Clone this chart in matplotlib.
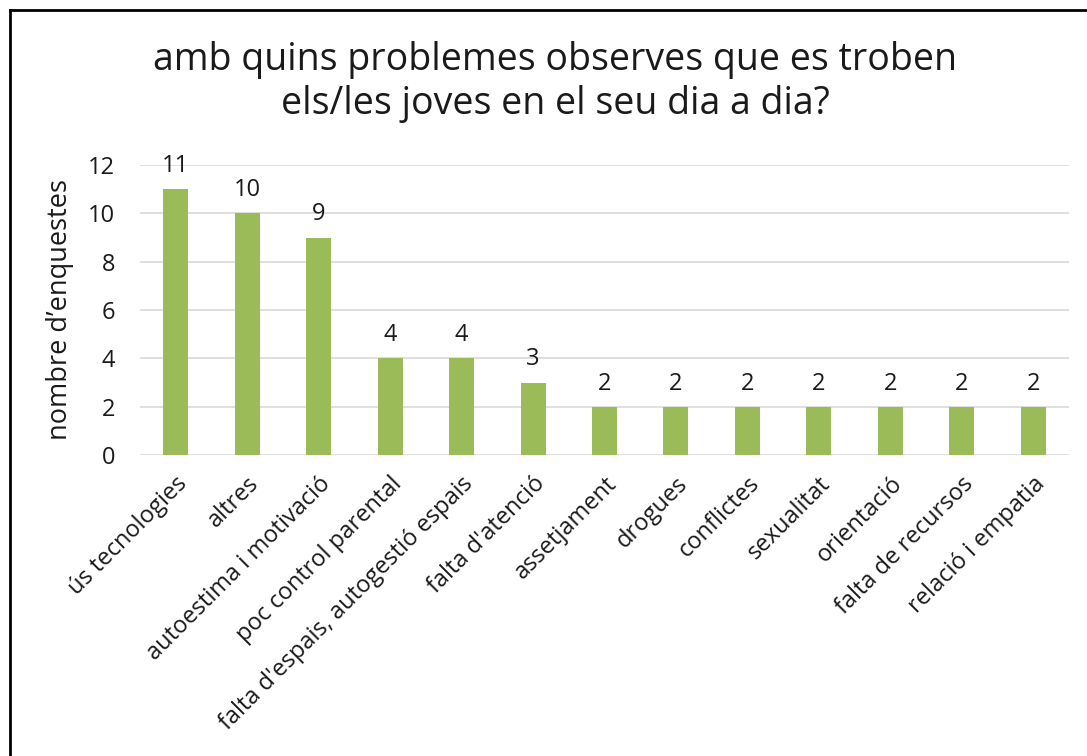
import matplotlib
matplotlib.use("Agg")
import matplotlib.pyplot as plt
from matplotlib.lines import Line2D

categories = ["ús tecnologies", "altres", "autoestima i motivació", "poc control parental",
              "falta d'espais, autogestió espais", "falta d'atenció", "assetjament", "drogues",
              "conflictes", "sexualitat", "orientació", "falta de recursos", "relació i empatia"]
values = [11, 10, 9, 4, 4, 3, 2, 2, 2, 2, 2, 2, 2]
yticks = [0, 2, 4, 6, 8, 10, 12]
title = "amb quins problemes observes que es troben\nels/les joves en el seu dia a dia?"
ylabel = "nombre d’enquestes"

plt.rcParams['font.family'] = ['Open Sans', 'DejaVu Sans']
TXT = "#1a1a1a"

W, H = 1087, 756
fig = plt.figure(figsize=(W/100, H/100), dpi=100)
ax = fig.add_axes([140/W, 1-455/H, (1069-140)/W, (455-165)/H])

x = list(range(len(categories)))
bars = ax.bar(x, values, width=0.35, color="#9BBB59", zorder=3)
for xi, v in zip(x, values):
    ax.annotate(str(v), (xi, v), xytext=(0, 8), textcoords="offset points",
                ha="center", va="bottom", fontsize=17, color=TXT)

ax.set_xlim(-0.5, len(categories)-0.5)
ax.set_ylim(0, 12)
ax.set_yticks(yticks)
ax.set_yticklabels([str(t) for t in yticks], fontsize=17, color=TXT)
ax.grid(axis="y", color="#D9D9D9", linewidth=1.2, zorder=0)
ax.set_axisbelow(True)
for s in ax.spines.values():
    s.set_visible(False)
ax.tick_params(axis="both", length=0)
ax.tick_params(axis="y", pad=18)
ax.set_xticks(x)
ax.set_xticklabels(categories, rotation=45, ha="right", rotation_mode="anchor",
                   fontsize=17, color=TXT)
ax.tick_params(axis="x", pad=12)
ax.set_ylabel(ylabel, fontsize=19.5, color=TXT, labelpad=10)

fig.text(555/W, 1-82/H, title, ha="center", va="center", fontsize=27,
         color=TXT, linespacing=1.2)

# outer frame
fig.add_artist(Line2D([10/W, 10/W], [0, 1-10/H], color="black", linewidth=2, transform=fig.transFigure))
fig.add_artist(Line2D([10/W, 1], [1-10/H, 1-10/H], color="black", linewidth=2, transform=fig.transFigure))

fig.savefig("out.png", dpi=100)
